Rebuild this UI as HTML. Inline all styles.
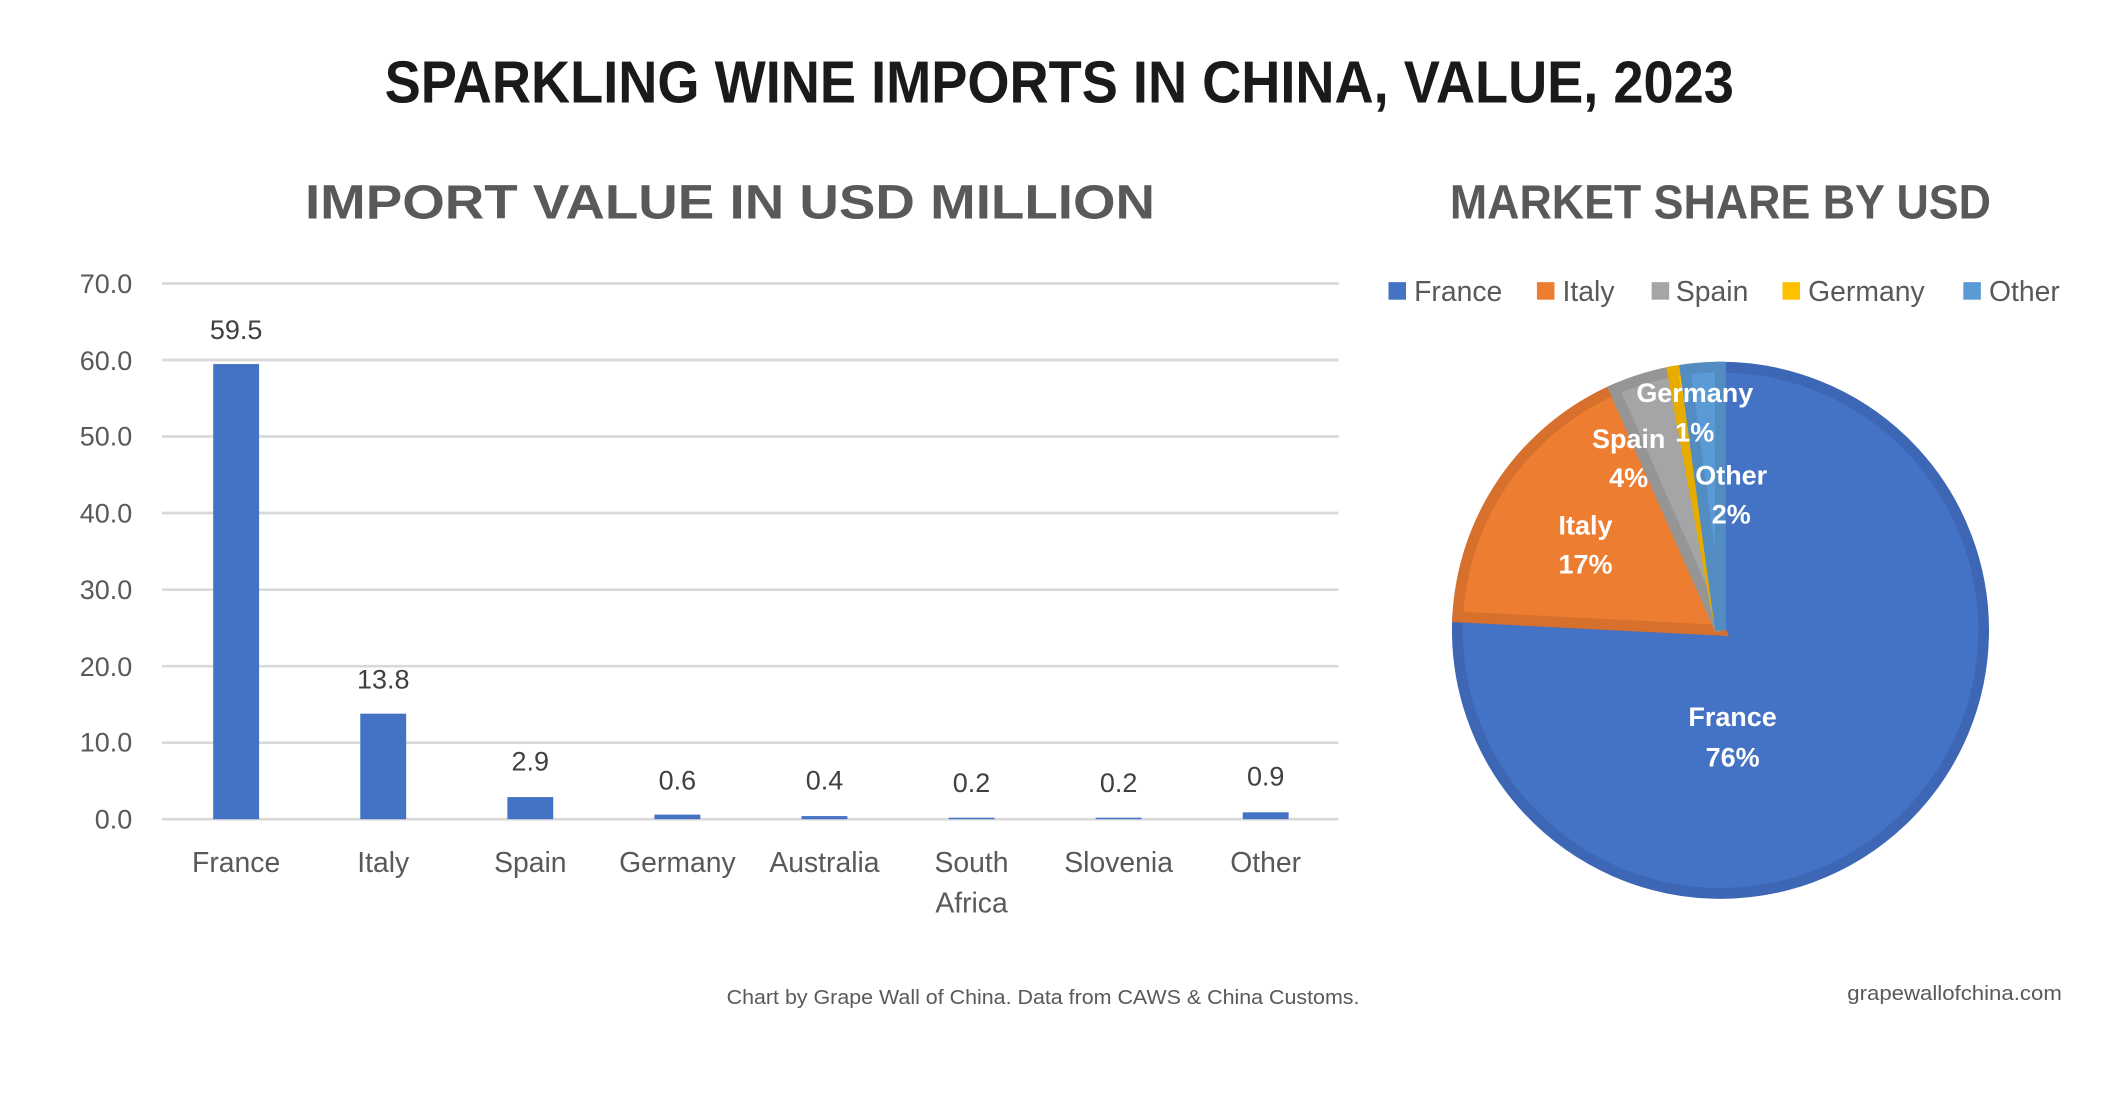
<!DOCTYPE html>
<html><head><meta charset="utf-8"><style>html,body{margin:0;padding:0;background:#fff}svg{display:block}</style></head>
<body>
<svg width="2105" height="1100" viewBox="0 0 1560 815" xmlns="http://www.w3.org/2000/svg" font-family="'Liberation Sans', sans-serif">
<rect width="1560" height="815" fill="#fff"/>
<text x="785" y="76" text-anchor="middle" font-size="44" font-weight="bold" fill="#1a1a1a" textLength="1000" lengthAdjust="spacingAndGlyphs">SPARKLING WINE IMPORTS IN CHINA, VALUE, 2023</text>
<text x="541" y="162" text-anchor="middle" font-size="36" font-weight="bold" fill="#595959" textLength="630" lengthAdjust="spacingAndGlyphs">IMPORT VALUE IN USD MILLION</text>
<text x="1275" y="162" text-anchor="middle" font-size="36" font-weight="bold" fill="#595959" textLength="401" lengthAdjust="spacingAndGlyphs">MARKET SHARE BY USD</text>
<g stroke="#d9d9d9" stroke-width="2">
<line x1="120" x2="992" y1="210" y2="210"/><line x1="120" x2="992" y1="266.7" y2="266.7"/><line x1="120" x2="992" y1="323.4" y2="323.4"/><line x1="120" x2="992" y1="380.1" y2="380.1"/><line x1="120" x2="992" y1="436.9" y2="436.9"/><line x1="120" x2="992" y1="493.6" y2="493.6"/><line x1="120" x2="992" y1="550.3" y2="550.3"/><line x1="120" x2="992" y1="607" y2="607"/>
</g>
<g font-size="20" fill="#595959" text-anchor="end">
<text x="98" y="217">70.0</text><text x="98" y="274">60.0</text><text x="98" y="330">50.0</text><text x="98" y="387">40.0</text><text x="98" y="444">30.0</text><text x="98" y="501">20.0</text><text x="98" y="557">10.0</text><text x="98" y="614">0.0</text>
</g>
<g fill="#4472c4">
<rect x="158" y="269.7" width="34" height="337.3"/>
<rect x="267" y="528.8" width="34" height="78.2"/>
<rect x="376" y="590.6" width="34" height="16.4"/>
<rect x="485" y="603.6" width="34" height="3.4"/>
<rect x="594" y="604.7" width="34" height="2.3"/>
<rect x="703" y="605.9" width="34" height="1.1"/>
<rect x="812" y="605.9" width="34" height="1.1"/>
<rect x="921" y="601.9" width="34" height="5.1"/>
</g>
<g font-size="20" fill="#404040" text-anchor="middle">
<text x="175" y="251">59.5</text><text x="284" y="510">13.8</text><text x="393" y="571">2.9</text><text x="502" y="585">0.6</text><text x="611" y="585">0.4</text><text x="720" y="587">0.2</text><text x="829" y="587">0.2</text><text x="938" y="582">0.9</text>
</g>
<g font-size="21" fill="#595959" text-anchor="middle">
<text x="175" y="646">France</text><text x="284" y="646">Italy</text><text x="393" y="646">Spain</text><text x="502" y="646">Germany</text><text x="611" y="646">Australia</text><text x="720" y="646">South</text><text x="720" y="676">Africa</text><text x="829" y="646">Slovenia</text><text x="938" y="646">Other</text>
</g>
<text x="773" y="744" text-anchor="middle" font-size="15" fill="#595959" textLength="469" lengthAdjust="spacingAndGlyphs">Chart by Grape Wall of China. Data from CAWS &amp; China Customs.</text>
<text x="1369" y="741" font-size="15" fill="#595959" textLength="159" lengthAdjust="spacingAndGlyphs">grapewallofchina.com</text>
<g font-size="21" fill="#595959">
<rect x="1029" y="209" width="13" height="13" fill="#4472c4"/><text x="1048" y="223">France</text>
<rect x="1139" y="209" width="13" height="13" fill="#ed7d31"/><text x="1158" y="223">Italy</text>
<rect x="1224" y="209" width="13" height="13" fill="#a5a5a5"/><text x="1242" y="223">Spain</text>
<rect x="1321" y="209" width="13" height="13" fill="#ffc000"/><text x="1340" y="223">Germany</text>
<rect x="1455" y="209" width="13" height="13" fill="#5b9bd5"/><text x="1474" y="223">Other</text>
</g>
<g stroke-width="8" stroke-linejoin="miter">
<path d="M1275,467 L1275,272 A195,195 0 1 1 1080.3,457.1 Z" fill="#4472c4" stroke="#3d66b5"/>
<path d="M1275,467 L1080.3,457.1 A195,195 0 0 1 1196.3,288.6 Z" fill="#ed7d31" stroke="#d6702c"/>
<path d="M1275,467 L1196.3,288.6 A195,195 0 0 1 1239.5,275.3 Z" fill="#a5a5a5" stroke="#959595"/>
<path d="M1275,467 L1239.5,275.3 A195,195 0 0 1 1248.9,273.8 Z" fill="#ffc000" stroke="#e6ad00"/>
<path d="M1275,467 L1248.9,273.8 A195,195 0 0 1 1275,272 Z" fill="#5b9bd5" stroke="#528cc0"/>
</g>
<g font-size="20" font-weight="bold" fill="#fff" text-anchor="middle">
<text x="1256" y="298">Germany</text><text x="1256" y="327">1%</text>
<text x="1207" y="332">Spain</text><text x="1207" y="361">4%</text>
<text x="1283" y="359">Other</text><text x="1283" y="388">2%</text>
<text x="1175" y="396">Italy</text><text x="1175" y="425">17%</text>
<text x="1284" y="538">France</text><text x="1284" y="568">76%</text>
</g>
</svg>
</body></html>
